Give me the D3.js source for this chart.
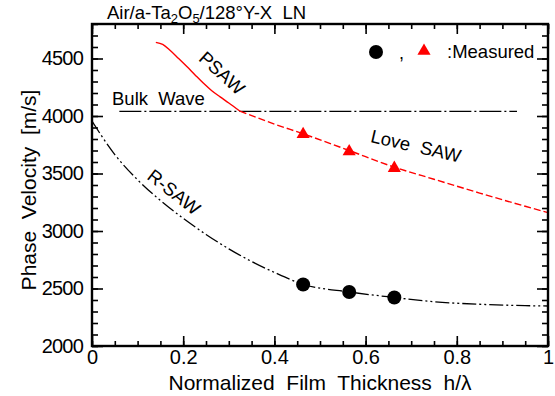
<!DOCTYPE html>
<html>
<head>
<meta charset="utf-8">
<script src="https://cdn.jsdelivr.net/npm/d3@7"></script>
<style>
  body { margin: 0; background: #fff; }
  svg { display: block; font-family: "Liberation Sans", Arial, sans-serif; }
  text { white-space: pre; }
</style>
</head>
<body>
<svg id="chart" width="555" height="396"></svg>
<script>
// tick labels
const xTicks = [0, 0.2, 0.4, 0.6, 0.8, 1];
const yTicks = [2000, 2500, 3000, 3500, 4000, 4500];

// R-SAW (black, dash-dot-dot)
const rsawX = [0, 0.05, 0.1, 0.15, 0.2, 0.25, 0.3, 0.35, 0.4, 0.463, 0.564, 0.663, 0.75, 0.85, 0.95, 1.0];
const rsawV = [3955, 3665, 3445, 3265, 3110, 2970, 2845, 2735, 2640, 2537, 2470, 2422, 2385, 2363, 2351, 2348];

// PSAW (red, solid)
const psawX = [0.14, 0.155, 0.171, 0.19, 0.208, 0.226, 0.244, 0.262, 0.281, 0.30, 0.324];
const psawV = [4640, 4622, 4572, 4500, 4430, 4357, 4286, 4222, 4166, 4113, 4043];

// Love SAW (red, dashed)
const loveX = [0.324, 0.4, 0.463, 0.564, 0.663, 0.75, 0.85, 0.95, 1.0];
const loveV = [4043, 3930, 3845, 3700, 3555, 3450, 3330, 3215, 3160];

// Bulk wave (black, dash-dot)
const bulkX = [0.06, 0.932];
const bulkV = [4040, 4040];

// measured points
const measX = [0.463, 0.564, 0.663];
const measR = [2535, 2470, 2422];
const measL = [3841, 3691, 3547];

const svg = d3.select('#chart');
const margin = { top: 24, right: 7, bottom: 50, left: 92 };
const W = 555, H = 396;
const iw = W - margin.left - margin.right;
const ih = H - margin.top - margin.bottom;

const x = d3.scaleLinear().domain([0, 1]).range([0, iw]);
const y = d3.scaleLinear().domain([2000, 4800]).range([ih, 0]);

const g = svg.append('g').attr('transform', `translate(${margin.left},${margin.top})`);

const line = d3.line().x(d => x(d[0])).y(d => y(d[1])).curve(d3.curveMonotoneX);
const zip = (a, b) => a.map((v, i) => [v, b[i]]);

// curves
g.append('path').datum(zip(bulkX, bulkV)).attr('d', line)
  .attr('fill', 'none').attr('stroke', '#000').attr('stroke-width', 1.3)
  .attr('stroke-dasharray', '22,3,2,3');

g.append('path').datum(zip(rsawX, rsawV)).attr('d', line)
  .attr('fill', 'none').attr('stroke', '#000').attr('stroke-width', 1.3)
  .attr('stroke-dasharray', '14,3,2,3,2,3');

g.append('path').datum(zip(psawX, psawV)).attr('d', line)
  .attr('fill', 'none').attr('stroke', '#f00').attr('stroke-width', 1.4);

g.append('path').datum(zip(loveX, loveV)).attr('d', line)
  .attr('fill', 'none').attr('stroke', '#f00').attr('stroke-width', 1.4)
  .attr('stroke-dasharray', '7,3');

// measured markers
g.selectAll('.circ').data(zip(measX, measR)).join('circle')
  .attr('cx', d => x(d[0])).attr('cy', d => y(d[1])).attr('r', 7).attr('fill', '#000');

const tri = d3.symbol().type(d3.symbolTriangle).size(75);
g.selectAll('.tri').data(zip(measX, measL)).join('path')
  .attr('transform', d => `translate(${x(d[0])},${y(d[1])})`)
  .attr('d', tri).attr('fill', '#f00');

// axes
const styleAxis = sel => {
  sel.select('.domain').remove();
  sel.selectAll('.tick line').attr('stroke', '#000').attr('stroke-width', 1.6);
  sel.selectAll('.tick text').attr('fill', '#000').style('font-size', '20px');
};
const minorX = d3.range(0, 1.0001, 0.05);
const minorY = d3.range(2000, 4801, 100);

g.append('g').attr('transform', `translate(0,${ih})`)
  .call(d3.axisBottom(x).tickValues(minorX).tickSize(-5).tickFormat(''))
  .call(styleAxis);
g.append('g').attr('transform', `translate(0,${ih})`)
  .call(d3.axisBottom(x).tickValues(xTicks).tickSize(-10).tickPadding(4).tickFormat(d3.format('')))
  .call(styleAxis);
g.append('g')
  .call(d3.axisTop(x).tickValues(minorX).tickSize(-5).tickFormat(''))
  .call(styleAxis);
g.append('g')
  .call(d3.axisTop(x).tickValues(xTicks).tickSize(-10).tickFormat(''))
  .call(styleAxis);

g.append('g')
  .call(d3.axisLeft(y).tickValues(minorY).tickSize(-6).tickFormat(''))
  .call(styleAxis);
g.append('g')
  .call(d3.axisLeft(y).tickValues(yTicks).tickSize(-11).tickPadding(9).tickFormat(d3.format('')))
  .call(styleAxis)
  .selectAll('.tick text').attr('letter-spacing', '-0.8px');
g.append('g').attr('transform', `translate(${iw},0)`)
  .call(d3.axisRight(y).tickValues(minorY).tickSize(-6).tickFormat(''))
  .call(styleAxis);
g.append('g').attr('transform', `translate(${iw},0)`)
  .call(d3.axisRight(y).tickValues(yTicks).tickSize(-11).tickFormat(''))
  .call(styleAxis);

// frame
g.append('rect').attr('width', iw).attr('height', ih)
  .attr('fill', 'none').attr('stroke', '#000').attr('stroke-width', 2.4);

// axis titles
svg.append('text').attr('x', margin.left + iw / 2).attr('y', 390)
  .attr('text-anchor', 'middle').style('font-size', '21px')
  .text('Normalized  Film  Thickness  h/\u03bb');

svg.append('text').attr('transform', `translate(36,${margin.top + ih / 2 + 5}) rotate(-90)`)
  .attr('text-anchor', 'middle').style('font-size', '21px')
  .text('Phase  Velocity  [m/s]');

// title
const title = svg.append('text').attr('x', 107).attr('y', 19).style('font-size', '18.5px');
title.append('tspan').text('Air/a-Ta');
title.append('tspan').text('2').style('font-size', '13px').attr('dy', 4);
title.append('tspan').text('O').attr('dy', -4);
title.append('tspan').text('5').style('font-size', '13px').attr('dy', 4);
title.append('tspan').text('/128\u00b0Y-X  LN').attr('dy', -4);

// curve labels
const label = (txt, cx, cy, rot, size) => svg.append('text')
  .attr('transform', `translate(${cx},${cy}) rotate(${rot})`)
  .attr('text-anchor', 'middle').attr('dy', '0.35em')
  .style('font-size', size + 'px').text(txt);

label('PSAW', 222, 73, 42, 18.5);
label('Love  SAW', 416, 146, 13, 18.5);
label('R-SAW', 174, 192, 38, 18.5);
svg.append('text').attr('x', 112).attr('y', 105).style('font-size', '18.5px').text('Bulk  Wave');

// legend
svg.append('circle').attr('cx', 376).attr('cy', 52).attr('r', 7).attr('fill', '#000');
svg.append('text').attr('x', 399).attr('y', 59).style('font-size', '18px').text(',');
svg.append('path').attr('transform', 'translate(424,51)').attr('d', tri).attr('fill', '#f00');
svg.append('text').attr('x', 447).attr('y', 58).style('font-size', '18.5px').text(':Measured');
</script>
</body>
</html>
